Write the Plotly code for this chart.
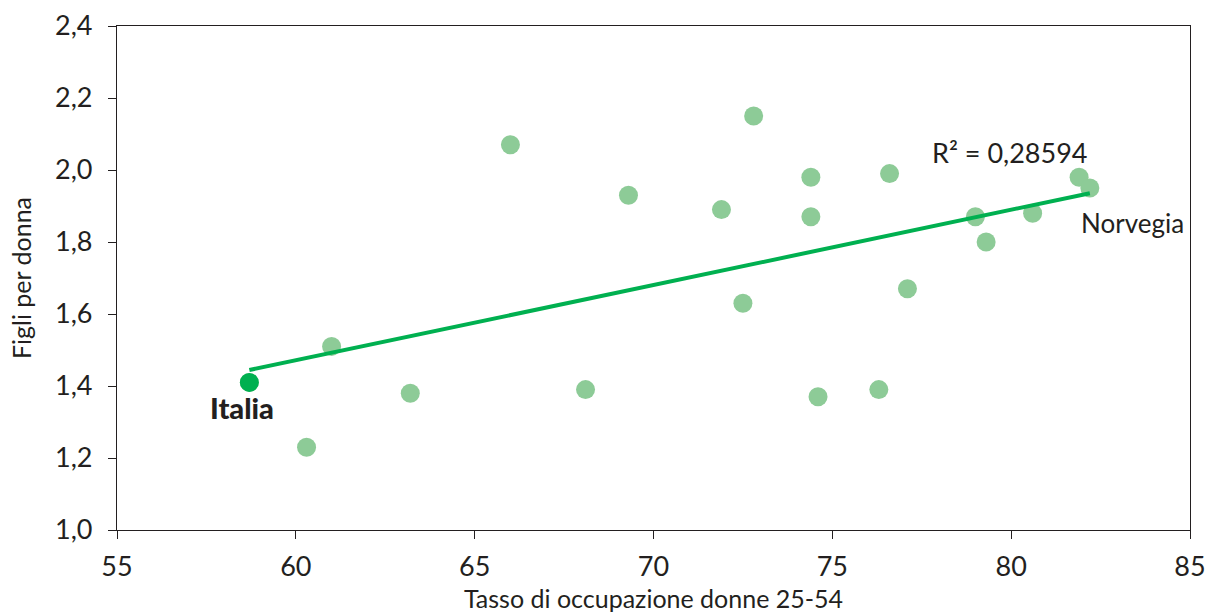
import numpy as np
import plotly.graph_objects as go

# Data
occupazione = [58.7, 61.0, 60.3, 63.2, 66.0, 68.1, 69.3, 71.9, 72.5, 72.8, 74.4, 74.4,
               74.6, 76.3, 76.6, 77.1, 79.0, 79.3, 80.6, 81.9, 82.2]
figli = [1.41, 1.51, 1.23, 1.38, 2.07, 1.39, 1.93, 1.89, 1.63, 2.15, 1.98, 1.87,
         1.37, 1.39, 1.99, 1.67, 1.87, 1.80, 1.88, 1.98, 1.95]
italia_x, italia_y = 58.7, 1.41
norvegia_x, norvegia_y = 82.2, 1.95
r2_label = "R² = 0,28594"
r2_pos = (79.97, 2.05)

x = np.array(occupazione)
y = np.array(figli)
slope, intercept = np.polyfit(x, y, 1)
xt = np.array([x.min(), x.max()])
yt = slope * xt + intercept

FONT = "Lato, 'Open Sans', sans-serif"
TXT = "#231f20"

fig = go.Figure()
fig.add_trace(go.Scatter(x=occupazione, y=figli, mode="markers",
                         marker=dict(size=19, color="#8dcb97"), hoverinfo="x+y",
                         showlegend=False))
fig.add_trace(go.Scatter(x=xt, y=yt, mode="lines",
                         line=dict(color="#00b050", width=4), showlegend=False))
fig.add_trace(go.Scatter(x=[italia_x], y=[italia_y], mode="markers",
                         marker=dict(size=19, color="#00b050"), showlegend=False))

fig.add_annotation(x=italia_x, y=italia_y, text="Italia", showarrow=False,
                   xanchor="center", yanchor="middle", xshift=-7, yshift=-25,
                   font=dict(family=FONT, size=29, color=TXT, weight=900))
fig.add_annotation(x=norvegia_x, y=norvegia_y, text="Norvegia", showarrow=False,
                   xanchor="left", yanchor="middle", xshift=-11, yshift=-35,
                   font=dict(family=FONT, size=26, color=TXT))
fig.add_annotation(x=r2_pos[0], y=r2_pos[1], text=r2_label, showarrow=False,
                   xanchor="center", yanchor="middle",
                   font=dict(family=FONT, size=27, color=TXT))

axis_common = dict(showline=True, linecolor="#231f20", linewidth=1.3, mirror=True,
                   ticks="outside", ticklen=8, tickcolor="#231f20", tickwidth=1.3,
                   showgrid=False, zeroline=False, automargin=False,
                   tickfont=dict(family=FONT, size=27, color=TXT))
fig.update_xaxes(range=[55, 85], dtick=5, tick0=55, ticklabelstandoff=4,
                 title=dict(text="Tasso di occupazione donne 25-54", standoff=10,
                            font=dict(family=FONT, size=25, color=TXT)),
                 **axis_common)
fig.update_yaxes(range=[1.0, 2.4], dtick=0.2, tick0=1.0, tickformat=".1f",
                 ticklabelstandoff=10,
                 title=dict(text="Figli per donna", standoff=16,
                            font=dict(family=FONT, size=25, color=TXT)),
                 **axis_common)
fig.update_layout(width=1206, height=613, separators=",.",
                  margin=dict(l=117, r=16, t=26, b=83),
                  plot_bgcolor="white", paper_bgcolor="white",
                  font=dict(family=FONT, color=TXT))
fig.write_html("out.html", config={"displayModeBar": False},
               post_script="document.body.style.margin='0';document.body.style.overflow='hidden';")
